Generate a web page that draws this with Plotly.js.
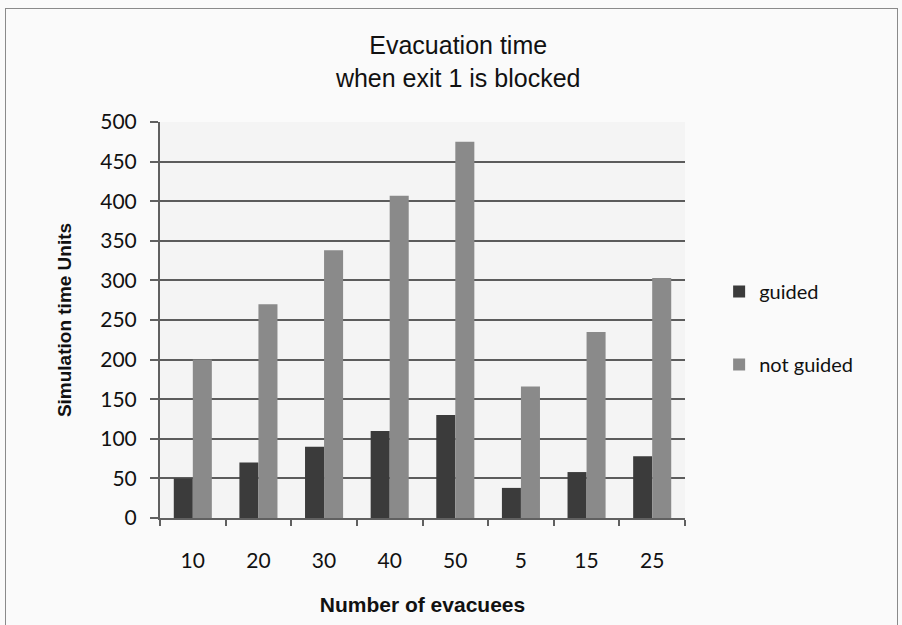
<!DOCTYPE html>
<html>
<head>
<meta charset="utf-8">
<script src="https://cdn.plot.ly/plotly-3.0.1.min.js"></script>
<style>
html,body{margin:0;padding:0;background:#fff;overflow:hidden;}
#wrap{position:relative;width:902px;height:625px;background:#fafafa;overflow:hidden;}
#frame{position:absolute;left:5px;top:8px;width:891px;height:640px;border:1px solid #8a8a8a;border-bottom:none;pointer-events:none;}
#chart{position:absolute;left:0;top:0;width:902px;height:625px;}
</style>
</head>
<body>
<div id="wrap"><div id="chart"></div><div id="frame"></div></div>
<script>
var categories = ["10", "20", "30", "40", "50", "5", "15", "25"];
var guided = [50, 70, 90, 110, 130, 38, 58, 78];
var notGuided = [200, 270, 338, 407, 475, 166, 235, 303];
var seriesNames = ["guided", "not guided"];
var yTicks = [0, 50, 100, 150, 200, 250, 300, 350, 400, 450, 500];

var labelFont = "Lato, 'Open Sans', sans-serif";
var titleFont = "'Liberation Sans', Arial, sans-serif";

var traces = [
  {type: "bar", name: seriesNames[0], x: categories, y: guided,
   marker: {color: "#3b3b3b"}, legendgroup: "a", hoverinfo: "x+y"},
  {type: "bar", name: seriesNames[1], x: categories, y: notGuided,
   marker: {color: "#8a8a8a"}, legendgroup: "b", hoverinfo: "x+y"}
];

var layout = {
  width: 902, height: 625,
  margin: {l: 160, r: 217, t: 122, b: 107},
  paper_bgcolor: "rgba(0,0,0,0)",
  plot_bgcolor: "#f4f4f4",
  barmode: "group",
  bargap: 0.42,
  bargroupgap: 0,
  title: {text: "Evacuation time<br>when exit 1 is blocked", x: 0.508, xanchor: "center",
          y: 0.913, yanchor: "middle",
          font: {family: titleFont, size: 25, color: "#111"}},
  xaxis: {
    type: "category", categoryorder: "array", categoryarray: categories,
    showline: true, linecolor: "#606060", linewidth: 2,
    ticks: "outside", tickson: "boundaries", ticklen: 6, tickcolor: "#606060", tickwidth: 2,
    ticklabelstandoff: 23,
    tickfont: {family: labelFont, size: 21, color: "#111"},
    title: {text: "<b>Number of evacuees</b>", standoff: 26,
            font: {family: titleFont, size: 21, color: "#111"}},
    showgrid: false, fixedrange: true
  },
  yaxis: {
    range: [0, 500], tickvals: yTicks,
    showline: true, linecolor: "#606060", linewidth: 2,
    ticks: "outside", ticklen: 8, tickcolor: "#606060", tickwidth: 2,
    gridcolor: "#5c5c5c", gridwidth: 2,
    zeroline: false,
    tickfont: {family: labelFont, size: 21, color: "#111"},
    ticklabelstandoff: 9,
    title: {text: "<b>Simulation time Units</b>", standoff: 24,
            font: {family: titleFont, size: 19, color: "#111"}},
    fixedrange: true
  },
  legend: {
    x: 1.065, xanchor: "left", y: 0.48, yanchor: "middle",
    font: {family: labelFont, size: 20, color: "#111"},
    tracegroupgap: 44, itemwidth: 30, bgcolor: "rgba(0,0,0,0)",
    traceorder: "grouped"
  },
  showlegend: true
};

Plotly.newPlot("chart", traces, layout, {displayModeBar: false, staticPlot: true});
</script>
</body>
</html>
